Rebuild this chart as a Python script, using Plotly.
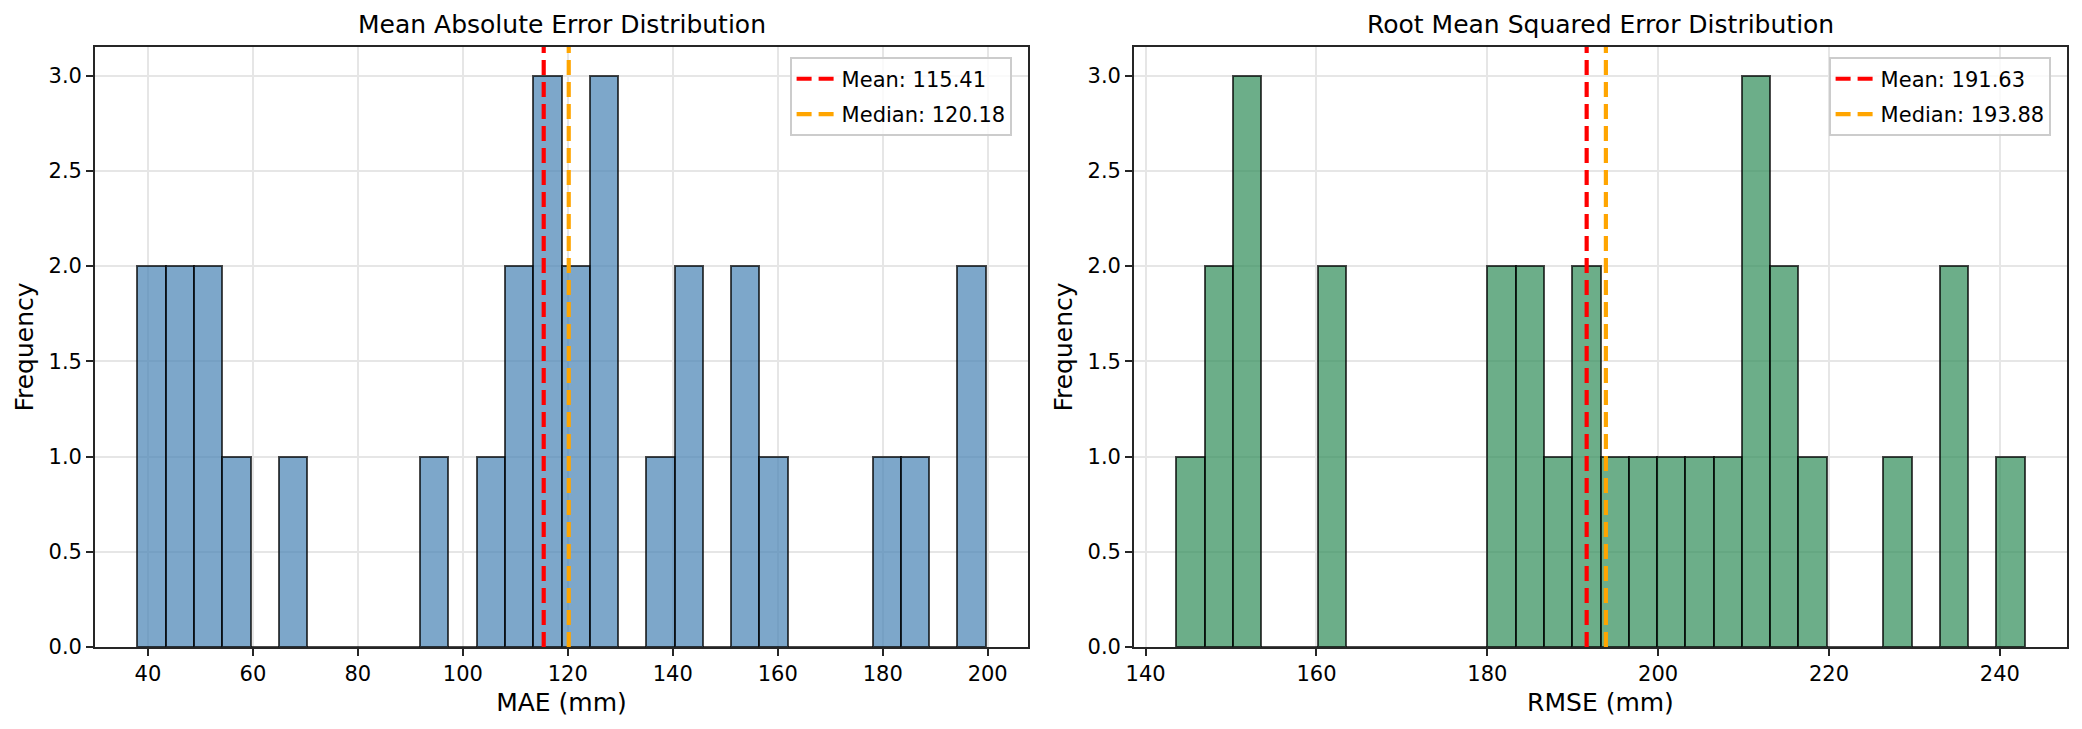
import numpy as np
import plotly.graph_objects as go

# ---------------- data ----------------
mae_counts = [2, 2, 2, 1, 0, 1, 0, 0, 0, 0,
              1, 0, 1, 2, 3, 2, 3, 0, 1, 2,
              0, 2, 1, 0, 0, 0, 1, 1, 0, 2]
mae_min, mae_max = 38.0, 199.6
mae_mean, mae_median = 115.41, 120.18

rmse_counts = [1, 2, 3, 0, 0, 2, 0, 0, 0, 0,
               0, 2, 2, 1, 2, 1, 1, 1, 1, 1,
               3, 2, 1, 0, 0, 1, 0, 2, 0, 1]
rmse_min, rmse_max = 143.6, 242.9
rmse_mean, rmse_median = 191.63, 193.88

titles = ["Mean Absolute Error Distribution", "Root Mean Squared Error Distribution"]
xlabels = ["MAE (mm)", "RMSE (mm)"]
y_ticks = [0.0, 0.5, 1.0, 1.5, 2.0, 2.5, 3.0]

# ---------------- layout constants ----------------
W, H = 2082, 729
ML, MR, MT, MB = 95, 15, 47, 82
PW = W - ML - MR
dom1 = [0.0, (1028 - ML) / PW]
dom2 = [(1134 - ML) / PW, 1.0]

FONT = "DejaVu Sans"
SPINE = "#262626"
GRID = "#e6e6e6"
LW_SP = 1.67

fig = go.Figure()

panels = [
    dict(counts=mae_counts, lo=mae_min, hi=mae_max, mean=mae_mean, med=mae_median,
         fill="rgba(70,130,180,0.7)", xa="x", ya="y", dom=dom1, legend="legend"),
    dict(counts=rmse_counts, lo=rmse_min, hi=rmse_max, mean=rmse_mean, med=rmse_median,
         fill="rgba(46,139,87,0.7)", xa="x2", ya="y2", dom=dom2, legend="legend2"),
]

shapes = []
annotations = []
for i, p in enumerate(panels):
    n = len(p["counts"])
    edges = np.linspace(p["lo"], p["hi"], n + 1)
    w = edges[1] - edges[0]
    centers = edges[:-1] + w / 2
    fig.add_trace(go.Bar(
        x=centers, y=p["counts"], width=w,
        marker=dict(color=p["fill"], line=dict(color="rgba(0,0,0,0.7)", width=2.0)),
        xaxis=p["xa"], yaxis=p["ya"], showlegend=False, hoverinfo="skip",
    ))
    span = p["hi"] - p["lo"]
    xr = [p["lo"] - 0.05 * span, p["hi"] + 0.05 * span]
    yr = [0, 1.05 * max(p["counts"])]
    axn = "" if i == 0 else "2"
    common = dict(showline=True, linecolor=SPINE, linewidth=LW_SP, mirror=True,
                  ticks="outside", ticklen=7, tickwidth=LW_SP, tickcolor=SPINE,
                  showgrid=True, gridcolor=GRID, gridwidth=1.6, zeroline=False,
                  automargin=False,
                  tickfont=dict(family=FONT, size=21, color="black"))
    fig.layout["xaxis" + axn] = dict(domain=p["dom"], range=xr, anchor="y" + axn,
                                     dtick=20, tick0=0,
                                     title=dict(text=xlabels[i], standoff=8,
                                                font=dict(family=FONT, size=25, color="black")),
                                     **common)
    fig.layout["yaxis" + axn] = dict(domain=[0, 1], range=yr, anchor="x" + axn,
                                     tickvals=y_ticks, ticktext=[f"{v:.1f}" for v in y_ticks],
                                     title=dict(text="Frequency", standoff=8,
                                                font=dict(family=FONT, size=25, color="black")),
                                     **common)
    for k, (val, col, lab) in enumerate([(p["mean"], "red", f"Mean: {p['mean']:.2f}"),
                                         (p["med"], "orange", f"Median: {p['med']:.2f}")]):
        shapes.append(dict(type="line", xref=p["xa"], yref=p["ya"] + " domain",
                           x0=val, x1=val, y0=0, y1=1,
                           line=dict(color=col, width=4.17, dash="15px,7px"),
                           showlegend=True, name=lab, legend=p["legend"],
                           legendgroup=f"g{i}{k}", layer="above"))
    annotations.append(dict(text=titles[i], xref="paper", yref="paper",
                            x=(p["dom"][0] + p["dom"][1]) / 2, y=1, yshift=6,
                            xanchor="center", yanchor="bottom", showarrow=False,
                            font=dict(family=FONT, size=25, color="black")))

leg_common = dict(bgcolor="rgba(255,255,255,0.8)", bordercolor="#cccccc", borderwidth=1.6,
                  font=dict(family=FONT, size=21, color="black"),
                  itemwidth=40, traceorder="grouped", tracegroupgap=5,
                  xanchor="right", yanchor="top", y=(H - MB - 57) / (H - MT - MB))

fig.update_layout(
    width=W, height=H,
    margin=dict(l=ML, r=MR, t=MT, b=MB, autoexpand=False),
    paper_bgcolor="white", plot_bgcolor="white",
    bargap=0,
    shapes=shapes, annotations=annotations,
    legend=dict(x=(1012 - ML) / PW, **leg_common),
    legend2=dict(x=(2051 - ML) / PW, **leg_common),
    font=dict(family=FONT, size=21, color="black"),
)

fig.write_html("out.html", config={"displayModeBar": False},
               post_script="document.body.style.margin='0';document.body.style.overflow='hidden';")
